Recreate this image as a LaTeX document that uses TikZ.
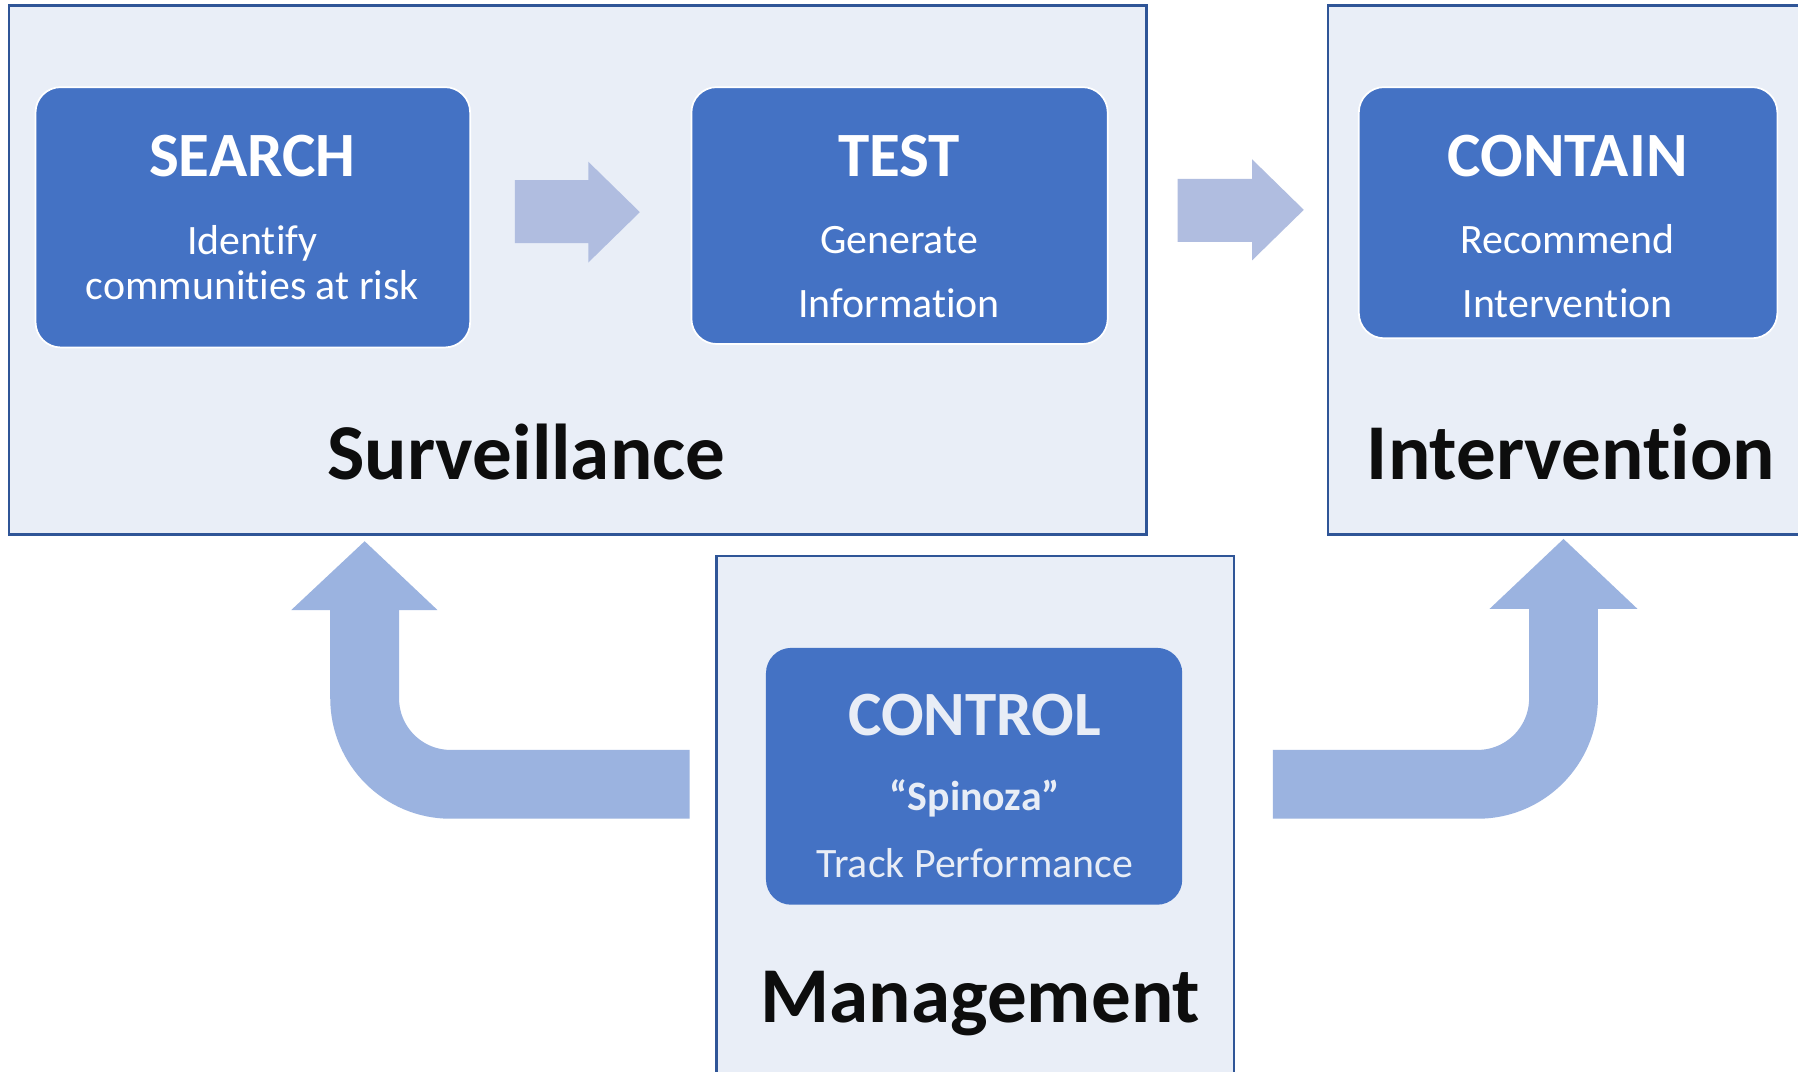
\documentclass[tikz,border=0pt]{standalone}
\usepackage{fontspec}
\setmainfont[RawFeature={-liga;-clig;-calt;-dlig}]{Carlito}
\definecolor{panelfill}{HTML}{E9EEF7}
\definecolor{panelline}{HTML}{2F5597}
\definecolor{stepfill}{HTML}{4472C4}
\definecolor{flowblue}{HTML}{B0BDE0}
\definecolor{bendblue}{HTML}{9BB3E0}
\definecolor{softwhite}{HTML}{E8EDF6}
\definecolor{labelink}{HTML}{0D0D0D}
\begin{document}
\begin{tikzpicture}[x=1pt,y=-1pt,
  panel/.style={draw=panelline, line width=2.2pt, fill=panelfill, inner sep=0pt},
  stepbox/.style={fill=stepfill, draw=white, line width=1.5pt, rounded corners=22pt, inner sep=0pt},
  titletext/.style={text=white, font=\fontsize{55}{60}\selectfont\bfseries, anchor=base, inner sep=0pt},
  bodytext/.style={text=white, font=\fontsize{36.5}{40}\selectfont, anchor=base, inner sep=0pt},
  boldbody/.style={bodytext, font=\fontsize{36.5}{40}\selectfont\bfseries},
  bigtext/.style={text=labelink, font=\fontsize{69}{75}\selectfont\bfseries, anchor=base, inner sep=0pt},
  flowarrow/.style={fill=flowblue},
  bentshaft/.style={draw=bendblue, line width=60pt, rounded corners=75pt},
  benthead/.style={fill=bendblue}
]
\useasboundingbox (0,0) rectangle (1568,934);
\clip (0,0) rectangle (1568,934);
\fill[white] (0,0) rectangle (1568,934);

% panels
\draw[panel] (8,5) rectangle (1000,466);
\draw[panel] (1158,5) rectangle (1610,466);
\draw[panel] (625,485) rectangle (1076,960);

% step boxes
\node[stepbox, minimum width=379pt, minimum height=227pt] (search) at (220.5,189.5) {};
\node[stepbox, minimum width=363pt, minimum height=224pt] (test) at (784.5,188) {};
\node[stepbox, minimum width=365pt, minimum height=219pt] (contain) at (1367.5,185.5) {};
\node[stepbox, draw=none, minimum width=363pt, minimum height=224pt] (control) at (849.5,677) {};

% texts in boxes
\node[titletext] (searchT) at (220,154) {SEARCH};
\node[bodytext] (searchA) at (220,222) {Identify};
\node[bodytext] (searchB) at (220,261) {communi{}ties at risk};

\node[titletext] (testT) at (784,154) {TEST};
\node[bodytext] (testA) at (784,221) {Generate};
\node[bodytext] (testB) at (784,277) {Information};

\node[titletext] (containT) at (1367,154) {CONTAIN};
\node[bodytext] (containA) at (1367,221) {Recommend};
\node[bodytext] (containB) at (1367,277) {Interven{}tion};

\node[titletext, text=softwhite] (controlT) at (850,641) {CONTROL};
\node[boldbody, text=softwhite] (controlA) at (850,707) {“Spinoza”};
\node[bodytext, text=softwhite] (controlB) at (850,765) {Track Performance};

% panel labels
\node[bigtext] (survL) at (459,418) {Surveillance};
\node[bigtext] (intL) at (1370,418) {Interven{}tion};
\node[bigtext] (mgmtL) at (855,892) {Management};

% straight flow arrows
\coordinate (f1tip) at (558,185);
\fill[flowarrow] (449,157) -- (513,157) -- (513,141) -- (f1tip) -- (513,229) -- (513,212) -- (449,212) -- cycle;
\coordinate (f2tip) at (1137,183);
\fill[flowarrow] (1027,156) -- (1092,156) -- (1092,139) -- (f2tip) -- (1092,227) -- (1092,211) -- (1027,211) -- cycle;

% bent arrows
\coordinate (lstart) at (601.5,684);
\coordinate (lbend) at (318,684);
\coordinate (lneck) at (318,530);
\coordinate (ltip) at (318,472);
\draw[bentshaft] (lstart) -- (lbend) -- (lneck);
\fill[benthead] (254,532) -- (ltip) -- (381.5,532) -- cycle;

\coordinate (rstart) at (1110,684);
\coordinate (rbend) at (1363.5,684);
\coordinate (rneck) at (1363.5,529);
\coordinate (rtip) at (1363.5,470);
\draw[bentshaft] (rstart) -- (rbend) -- (rneck);
\fill[benthead] (1299,531) -- (rtip) -- (1428,531) -- cycle;
\end{tikzpicture}
\end{document}
